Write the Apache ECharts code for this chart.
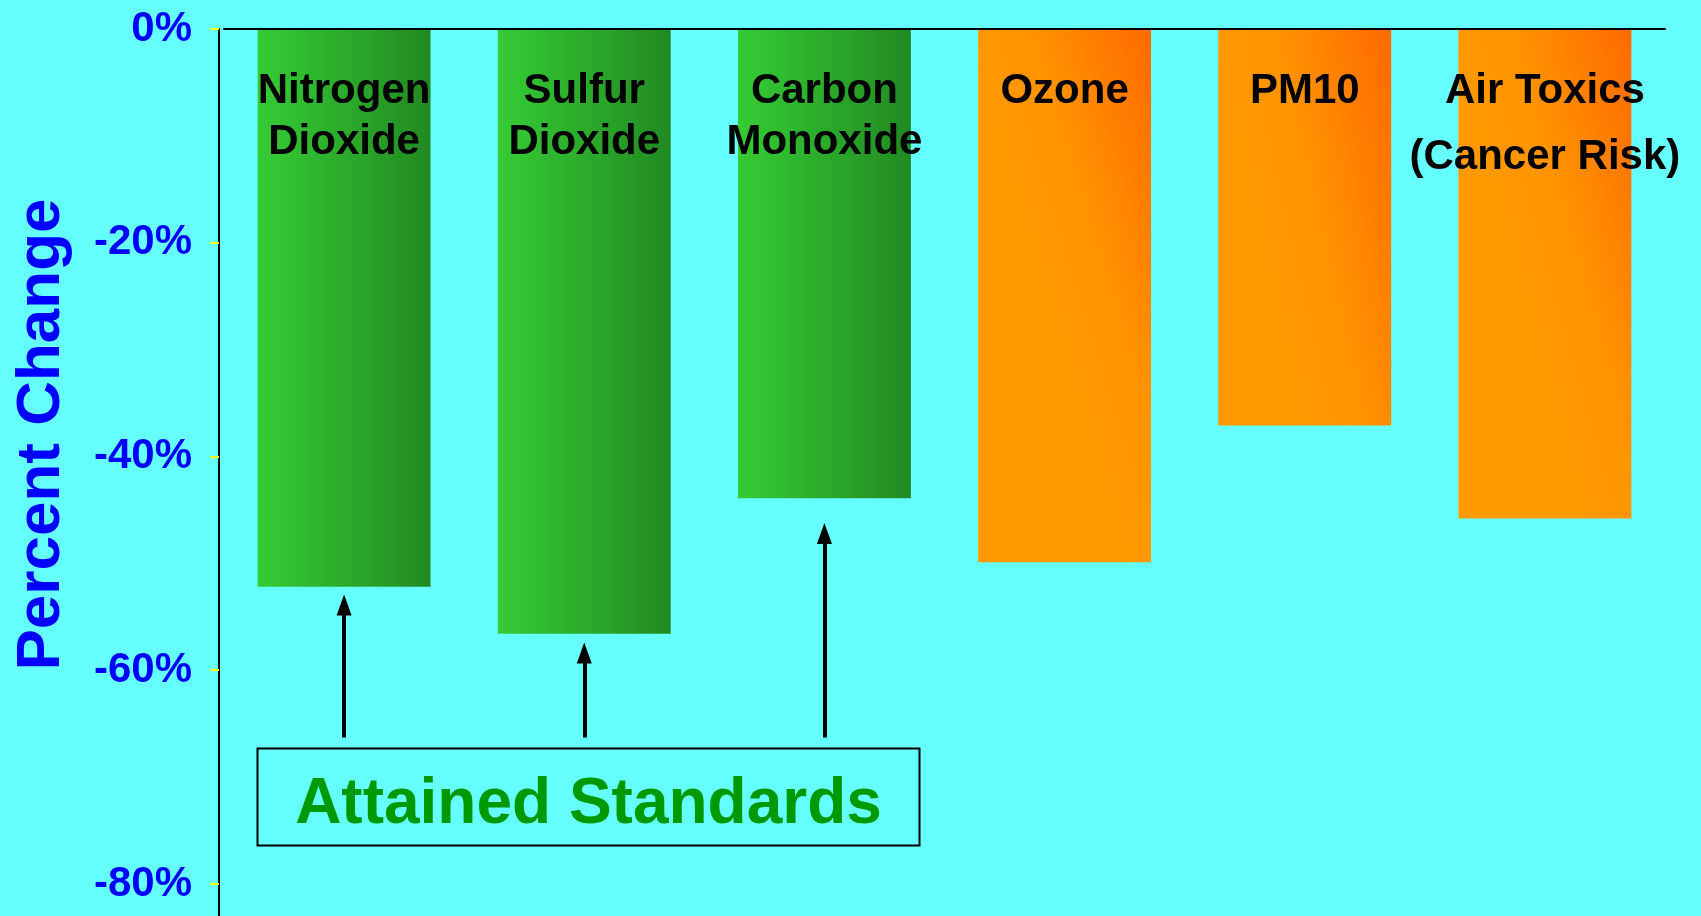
<!DOCTYPE html>
<html>
<head>
<meta charset="utf-8">
<script src="https://cdn.jsdelivr.net/npm/echarts@6/dist/echarts.min.js"></script>
<style>
html,body{margin:0;padding:0;background:#66ffff;}
#chart{width:1701px;height:916px;}
</style>
</head>
<body>
<div id="chart"></div>
<script>
const categories = ['Nitrogen\nDioxide', 'Sulfur\nDioxide', 'Carbon\nMonoxide', 'Ozone', 'PM10', 'Air Toxics\n(Cancer Risk)'];
const percentChange = [-52.2, -56.6, -43.9, -49.9, -37.1, -45.8];
const attained = [true, true, true, false, false, false];
const yTicks = [0, -20, -40, -60, -80];
const arrowFrom = -66.3;
const arrowHeads = [-53.9, -58.4, -47.2];
const boxText = 'Attained Standards';

const FONT = "'Liberation Sans', Arial, sans-serif";
const greenGrad = new echarts.graphic.LinearGradient(0, 0, 1, 0, [
  {offset: 0, color: '#35cc35'}, {offset: 1, color: '#218a21'}
]);
const orangeGrad = new echarts.graphic.LinearGradient(0, 0.1, 1, 0, [
  {offset: 0, color: '#ff9900'}, {offset: 0.35, color: '#ff9400'}, {offset: 1, color: '#ff6a00'}
]);

const chart = echarts.init(document.getElementById('chart'));
const option = {
  backgroundColor: '#66ffff',
  animation: false,
  grid: {left: 224, right: 36, top: 29, bottom: 0},
  xAxis: {
    type: 'category',
    data: categories,
    position: 'top',
    z: 5,
    axisLine: {show: true, lineStyle: {color: '#000', width: 2}},
    axisTick: {show: false},
    axisLabel: {
      inside: true,
      interval: 0,
      margin: 37,
      color: '#000',
      fontFamily: FONT,
      fontWeight: 'bold',
      fontSize: 42,
      lineHeight: 51,
      formatter: function (v) {
        if (v.indexOf('(') >= 0) {
          const parts = v.split('\n');
          return '{a|' + parts[0] + '}\n{b|' + parts[1] + '}';
        }
        return v;
      },
      rich: {
        a: {fontFamily: FONT, fontWeight: 'bold', fontSize: 42, lineHeight: 51, color: '#000'},
        b: {fontFamily: FONT, fontWeight: 'bold', fontSize: 42, lineHeight: 81, color: '#000'}
      }
    },
    splitLine: {show: false}
  },
  yAxis: {
    type: 'value',
    min: -83,
    max: 0,
    offset: 5,
    name: 'Percent Change',
    nameLocation: 'middle',
    nameGap: 146,
    nameTextStyle: {color: '#0000ff', fontFamily: FONT, fontWeight: 'bold', fontSize: 62, padding: [0, 0, 0, 76]},
    axisLine: {show: true, lineStyle: {color: '#000', width: 2}},
    axisTick: {show: true, length: 9, customValues: yTicks, lineStyle: {color: '#ffff00', width: 2}},
    axisLabel: {
      customValues: yTicks,
      margin: 27,
      color: '#0000ff',
      fontFamily: FONT,
      fontWeight: 'bold',
      fontSize: 42,
      formatter: v => v + '%'
    },
    splitLine: {show: false}
  },
  series: [{
    type: 'bar',
    barCategoryGap: '28%',
    data: percentChange.map((v, i) => ({
      value: v,
      itemStyle: {color: attained[i] ? greenGrad : orangeGrad}
    })),
    emphasis: {disabled: true},
    markLine: {
      silent: true,
      symbol: ['none', 'triangle'],
      symbolSize: [15, 21],
      label: {show: false},
      lineStyle: {color: '#000', width: 4, type: 'solid'},
      data: arrowHeads.map((t, i) => [
        {coord: [categories[i], arrowFrom]},
        {coord: [categories[i], t]}
      ])
    }
  }],
  graphic: [{
    type: 'group',
    left: 255,
    top: 746,
    children: [
      {type: 'rect', shape: {x: 0, y: 0, width: 662, height: 97}, style: {fill: 'none', stroke: '#000', lineWidth: 2}},
      {type: 'text', x: 331, y: 57, style: {text: boxText, fill: '#009900', font: "bold 64px 'Liberation Sans', Arial, sans-serif", textAlign: 'center', textVerticalAlign: 'middle'}}
    ]
  }]
};
chart.setOption(option);
</script>
</body>
</html>
